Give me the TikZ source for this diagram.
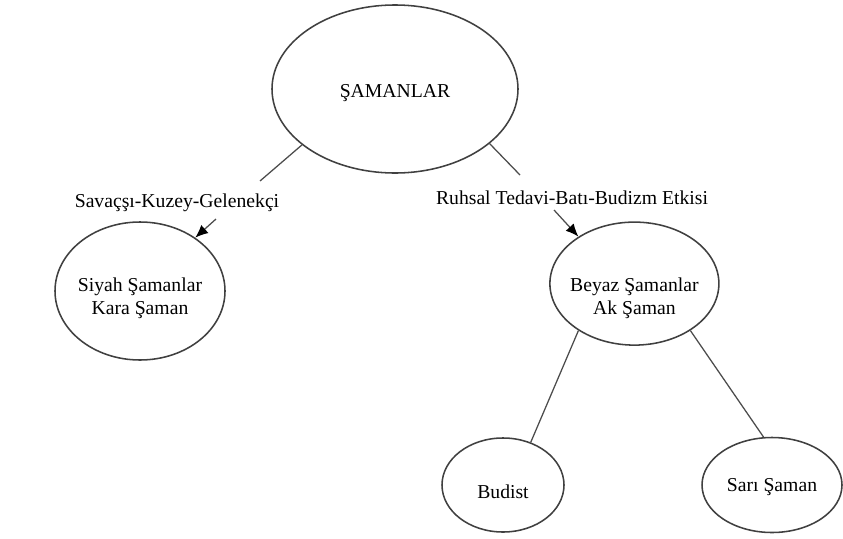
\documentclass[tikz,border=0pt]{standalone}
\usepackage{fontspec}
\setmainfont{Liberation Serif}
\usetikzlibrary{shapes.geometric, arrows.meta}

\begin{document}
\begin{tikzpicture}[
	every node/.style={font=\fontsize{14}{16.3}\selectfont},
	oval/.style={ellipse, draw=black!75, line width=1.1pt, inner sep=0pt},
	lbl/.style={inner sep=0pt, align=center},
	link/.style={draw=black!70, line width=0.9pt},
	>={Latex[length=3.2mm, width=2.7mm, black]}
]
\useasboundingbox (0,0) rectangle (21.075,-13.45);
% ellipses
\node[oval, minimum width=6.15cm, minimum height=4.2cm,
	label={[lbl, yshift=-0.1cm]center:ŞAMANLAR}] (saman) at (9.875,-2.225) {};
\node[oval, minimum width=4.25cm, minimum height=3.45cm,
	label={[lbl, yshift=-0.19cm]center:Siyah Şamanlar\\Kara Şaman}] (siyah) at (3.5,-7.275) {};
\node[oval, minimum width=4.225cm, minimum height=3.075cm,
	label={[lbl, yshift=-0.375cm]center:Beyaz Şamanlar\\Ak Şaman}] (beyaz) at (15.86,-7.09) {};
\node[oval, minimum width=3.05cm, minimum height=2.35cm,
	label={[lbl, yshift=-0.175cm]center:Budist}] (budist) at (12.575,-12.125) {};
\node[oval, minimum width=3.5cm, minimum height=2.375cm,
	label={[lbl, yshift=-0.05cm]center:Sarı Şaman}] (sari) at (19.3,-12.125) {};
% branch labels
\node[lbl] (savas) at (4.425,-5.075) {Savaçşı-Kuzey-Gelenekçi};
\node[lbl] (ruhsal) at (14.3,-4.95) {Ruhsal Tedavi-Batı-Budizm Etkisi};
\coordinate (savasup) at (6.5,-4.525);
\coordinate (savasdn) at (5.4,-5.475);
\coordinate (ruhsalup) at (13.0,-4.375);
\coordinate (ruhsaldn) at (13.85,-5.25);
% connectors
\draw[link] (saman.211) -- (savasup);
\draw[link] (saman.330) -- (ruhsalup);
\draw[link, ->] (savasdn) -- (siyah.44);
\draw[link, ->] (ruhsaldn) -- (beyaz.140);
\draw[link] (beyaz.220) -- (budist.57);
\draw[link] (beyaz.320) -- (sari.100);
\end{tikzpicture}
\end{document}
